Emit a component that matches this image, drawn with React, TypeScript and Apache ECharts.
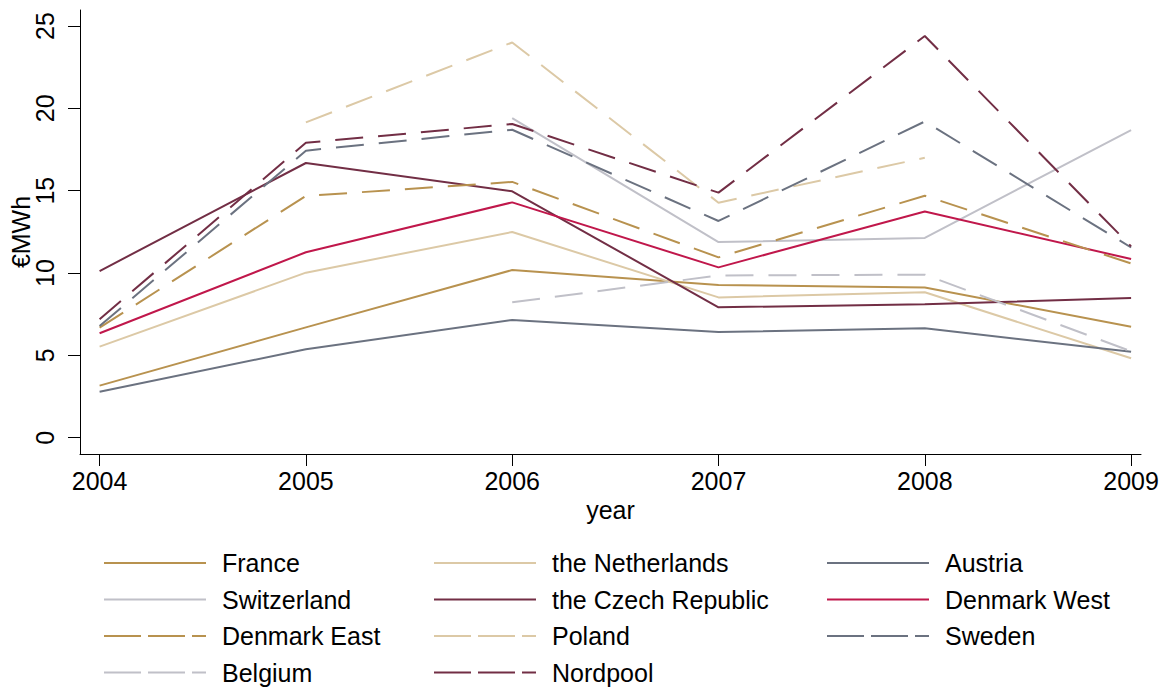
import React, { useEffect, useRef } from "react";
import * as echarts from "echarts";

const years = [2004, 2005, 2006, 2007, 2008, 2009];
const yTicks = [0, 5, 10, 15, 20, 25];

const france = [3.16, 6.7, 10.18, 9.27, 9.12, 6.74];
const netherlands = [5.53, 10.02, 12.49, 8.52, 8.83, 4.82];
const austria = [2.79, 5.37, 7.15, 6.42, 6.64, 5.22];
const switzerland = [null, null, 19.41, 11.88, 12.13, 18.68];
const czech = [10.12, 16.68, 14.96, 7.92, 8.1, 8.48];
const denmarkWest = [6.34, 11.26, 14.29, 10.34, 13.74, 10.85];
const denmarkEast = [6.68, 14.68, 15.53, 10.95, 14.69, 10.58];
const poland = [null, 19.15, 24.0, 14.27, 17.0, null];
const sweden = [6.78, 17.43, 18.7, 13.16, 19.2, 11.55];
const belgium = [null, null, 8.22, 9.85, 9.9, 5.25];
const nordpool = [7.19, 17.91, 19.05, 14.88, 24.39, 11.62];

const seriesNames = [
  "France",
  "the Netherlands",
  "Austria",
  "Switzerland",
  "the Czech Republic",
  "Denmark West",
  "Denmark East",
  "Poland",
  "Sweden",
  "Belgium",
  "Nordpool",
];
const seriesValues = [
  france,
  netherlands,
  austria,
  switzerland,
  czech,
  denmarkWest,
  denmarkEast,
  poland,
  sweden,
  belgium,
  nordpool,
];
const seriesColors = [
  "#B8924F",
  "#DCC9A6",
  "#6B7280",
  "#C0C0C8",
  "#722E45",
  "#C0174B",
  "#B8924F",
  "#DCC9A6",
  "#6B7280",
  "#C0C0C8",
  "#722E45",
];
const seriesDashed = [false, false, false, false, false, false, true, true, true, true, true];

const FONT = "'Liberation Sans', Arial, Helvetica, sans-serif";

export default function App() {
  const ref = useRef<HTMLDivElement>(null);

  useEffect(() => {
    if (!ref.current) return;
    const chart = echarts.init(ref.current, undefined, { renderer: "svg" });

    const series = seriesNames.map((name, i) => ({
      name,
      type: "line",
      data: years.map((y, j) => [y, seriesValues[i][j]]),
      symbol: "none",
      showSymbol: false,
      connectNulls: false,
      color: seriesColors[i],
      lineStyle: {
        color: seriesColors[i],
        width: 2,
        type: seriesDashed[i] ? [28, 15] : "solid",
      },
      z: 2 + i,
    }));

    const legendItem = (i: number) => ({
      name: seriesNames[i],
      itemStyle: { opacity: 0 },
      lineStyle: {
        color: seriesColors[i],
        width: 2,
        type: seriesDashed[i] ? [37, 7] : "solid",
      },
    });

    const columns = [
      { left: 103, items: [0, 3, 6, 9] },
      { left: 433, items: [1, 4, 7, 10] },
      { left: 826, items: [2, 5, 8] },
    ];

    const legends = columns.map((c) => ({
      orient: "vertical",
      left: c.left,
      top: 550,
      itemWidth: 102,
      itemHeight: 14,
      itemGap: 10.5,
      padding: 0,
      itemStyle: { opacity: 0 },
      data: c.items.map(legendItem),
      textStyle: {
        fontFamily: FONT,
        fontSize: 25,
        lineHeight: 26,
        color: "#000",
        padding: [0, 0, 0, 11],
      },
    }));

    chart.setOption({
      animation: false,
      backgroundColor: "#fff",
      grid: {
        left: 80,
        right: 30,
        top: 10,
        bottom: 235,
        containLabel: false,
        outerBoundsMode: "none",
      },
      legend: legends,
      xAxis: {
        type: "value",
        min: 2003.905,
        max: 2009.048,
        name: "year",
        nameLocation: "middle",
        nameGap: 43,
        nameMoveOverlap: false,
        nameTextStyle: { fontFamily: FONT, fontSize: 25, color: "#000" },
        axisLine: { show: true, onZero: false, lineStyle: { color: "#000", width: 1 } },
        axisTick: { show: true, length: 12, customValues: years, lineStyle: { color: "#000" } },
        axisLabel: {
          customValues: years,
          formatter: (v: number) => String(Math.round(v)),
          fontFamily: FONT,
          fontSize: 25,
          color: "#000",
          margin: 14,
          showMinLabel: true,
          showMaxLabel: true,
        },
        splitLine: { show: false },
      },
      yAxis: {
        type: "value",
        min: -0.99,
        max: 25.97,
        name: "€MWh",
        nameLocation: "middle",
        nameRotate: 90,
        nameGap: 47,
        nameMoveOverlap: false,
        nameTextStyle: { fontFamily: FONT, fontSize: 25, color: "#000" },
        axisLine: { show: true, onZero: false, lineStyle: { color: "#000", width: 1 } },
        axisTick: { show: true, length: 12, customValues: yTicks, lineStyle: { color: "#000" } },
        axisLabel: {
          customValues: yTicks,
          rotate: 90,
          fontFamily: FONT,
          fontSize: 25,
          color: "#000",
          margin: 23,
        },
        splitLine: { show: false },
      },
      series,
    });

    return () => chart.dispose();
  }, []);

  return (
    <div
      ref={ref}
      style={{ position: "fixed", left: 0, top: 0, width: 1171, height: 689, background: "#fff" }}
    />
  );
}
